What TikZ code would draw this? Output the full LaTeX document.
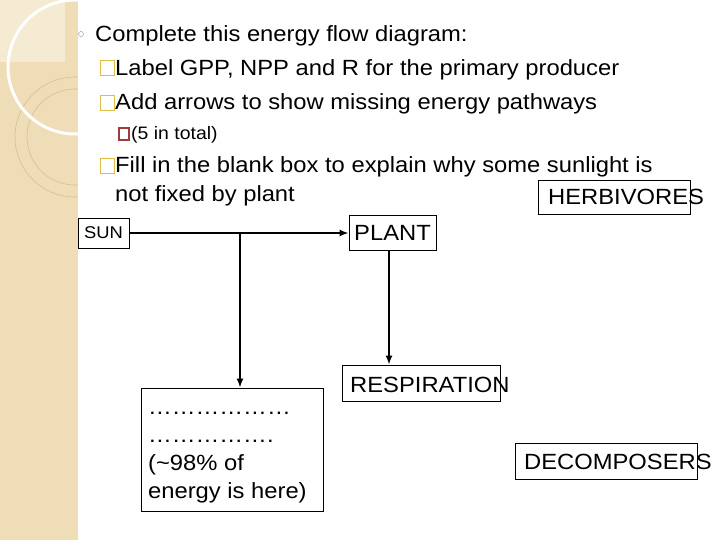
\documentclass[tikz,border=0pt]{standalone}
\usepackage{fontspec}
\setmainfont{Liberation Sans}[FakeStretch=1.08]
\usetikzlibrary{positioning, arrows.meta}

\definecolor{stripe}{RGB}{238,221,182}
\definecolor{stripelight}{RGB}{245,234,210}
\definecolor{ringline}{RGB}{212,192,150}
\definecolor{bulletyellow}{RGB}{224,190,70}
\definecolor{bulletred}{RGB}{160,60,60}
\definecolor{ringbullet}{RGB}{120,145,165}

\tikzset{
  txt/.style={inner sep=0pt, anchor=base west, font=\fontsize{22}{28}\selectfont},
  box/.style={draw, line width=0.9pt, inner sep=0pt},
  flow/.style={-{Latex[length=9pt,width=7pt]}, line width=1.5pt},
  tickbox/.style={draw=bulletyellow, line width=1.5pt, inner sep=0pt, minimum width=14pt, minimum height=15pt}
}

\begin{document}
\begin{tikzpicture}[x=1pt, y=-1pt]
        \useasboundingbox (0,0) rectangle (720,540);

        % Decorated strip on the left
        \begin{scope}
        \clip (0,0) rectangle (78,540);
        \fill[stripe] (0,0) rectangle (78,540);
        \fill[stripelight] (0,0) rectangle (65,62);
        \draw[ringline, line width=0.6pt] (75,137) circle (60);
        \draw[ringline, line width=0.6pt] (75,137) circle (48);
        \draw[white, line width=3pt] (75,67) circle (67);
        \end{scope}

        % Instructions
        \node[draw=ringbullet, circle, inner sep=0pt, minimum size=5pt] (dot) at (81,34) {};
        \node[txt] (title) at (95,42) {Complete this energy flow diagram:};
        \node[tickbox] (b1) at (107.5,68) {};
        \node[txt] (task1) at (115,76) {Label GPP, NPP and R for the primary producer};
        \node[tickbox] (b2) at (107.5,103) {};
        \node[txt] (task2) at (115,110) {Add arrows to show missing energy pathways};
        \node[draw=bulletred, line width=1.5pt, inner sep=0pt, minimum width=10pt, minimum height=12pt] (b3) at (124,134) {};
        \node[txt, font=\fontsize{18}{22}\selectfont] (task2b) at (131,140) {(5 in total)};
        \node[tickbox] (b4) at (107.5,166) {};
        \node[txt] (task3) at (115,173) {Fill in the blank box to explain why some sunlight is};
        \node[txt] (task3b) at (115,202) {not fixed by plant};

        % Energy flow boxes
        \node[box, minimum width=51pt, minimum height=30pt, font=\fontsize{17}{20}\selectfont] (sun) at (103.5,233) {SUN};
        \node[box, minimum width=87pt, minimum height=35pt, font=\fontsize{22}{26}\selectfont] (plant) at (392.5,233) {PLANT};
        \node[box, minimum width=152pt, minimum height=34pt] (herb) at (614,197) {};
        \node[txt] (herbtext) at (548,205) {HERBIVORES};
        \node[box, minimum width=158pt, minimum height=36pt] (resp) at (421,383) {};
        \node[txt] (resptext) at (350,392) {RESPIRATION};
        \node[box, minimum width=182pt, minimum height=36pt] (decomp) at (606,461) {};
        \node[txt] (decomptext) at (524,469) {DECOMPOSERS};
        \node[box, minimum width=182pt, minimum height=123pt] (lost) at (232,449.5) {};
        \node[txt, align=left] (losttext) at (148,498) {………………\\…………….\\(\textasciitilde98\% of\\energy is here)};

        % Arrows
        \draw[flow] (sun) -- (plant);
        \coordinate (split) at (240,233);
        \draw[flow] (split) -- (split |- lost.north);
        \draw[flow] ([xshift=-3.5pt]plant.south) -- ([xshift=-3.5pt]plant.south |- resp.north);
\end{tikzpicture}
\end{document}
